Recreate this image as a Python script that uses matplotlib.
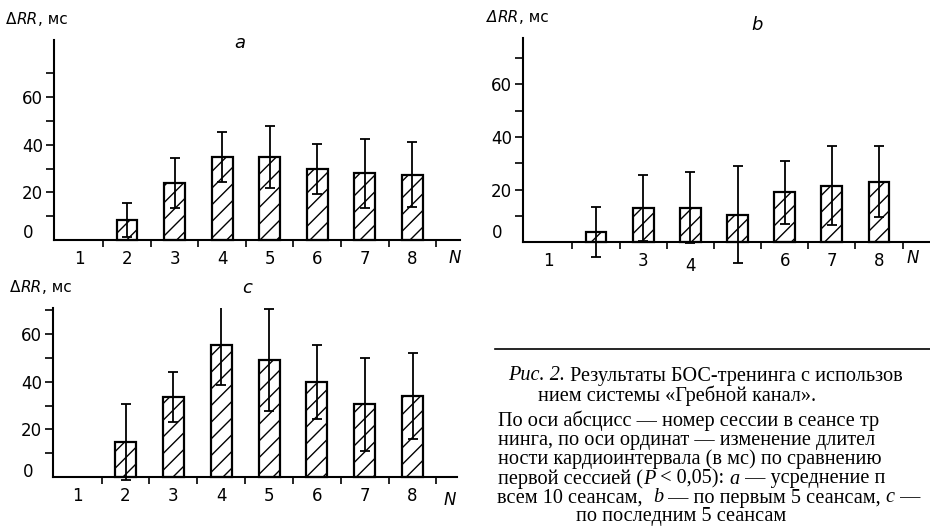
import matplotlib
matplotlib.use('Agg')
import matplotlib.pyplot as plt
from matplotlib.lines import Line2D
from matplotlib.ticker import FixedLocator
from matplotlib.transforms import ScaledTranslation

W, H = 930, 528

# session numbers that have bars (session 1 is the reference)
sessions = [2, 3, 4, 5, 6, 7, 8]
x_ticks = [1, 2, 3, 4, 5, 6, 7, 8]
x_minor = [1.5, 2.5, 3.5, 4.5, 5.5, 6.5, 7.5, 8.5]

# a - all 10 seances
a_mean = [8.5, 24, 35, 35, 30, 28, 27.5]
a_err = [7, 10.5, 10.5, 13, 10.5, 14.5, 13.5]
# b - first 5 seances
b_mean = [4, 13, 13, 10.5, 19, 21.5, 23]
b_err = [9.5, 12.5, 13.5, 18.5, 12, 15, 13.5]
# c - last 5 seances
c_mean = [14.5, 33.5, 55.5, 49, 40, 30.5, 34]
c_err = [16, 10.5, 17, 21.5, 15.5, 19.5, 18]

a_labels = ['1', '2', '3', '4', '5', '6', '7', '8']
b_labels = ['1', '', '3', '4', '', '6', '7', '8']
c_labels = ['1', '2', '3', '4', '5', '6', '7', '8']
y_major = [20, 40, 60]
y_minor = [10, 30, 50, 70]

fig = plt.figure(figsize=(W / 100, H / 100), dpi=100)
plt.rcParams['hatch.linewidth'] = 1.0
SANS = 'DejaVu Sans'
SERIF = 'Liberation Serif'


def fx(x):
    return x / W


def fy(y):
    return 1 - y / H


def runs(x, y, parts, size, family, va='center'):
    # draw a line of text made of pieces with different styles
    r = fig.canvas.get_renderer()
    for s, style in parts:
        t = fig.text(fx(x), fy(y), s, style=style, fontsize=size,
                     family=family, va=va, ha='left')
        x += t.get_window_extent(renderer=r).width


def panel(rect, xlim, ylim, mean, err, labels):
    x0, y0, x1, y1 = rect
    ax = fig.add_axes([fx(x0), fy(y1), (x1 - x0) / W, (y1 - y0) / H])
    ax.patch.set_visible(False)
    ax.bar(sessions, mean, width=0.44, color='white', edgecolor='black',
           linewidth=1.6, hatch='//', zorder=2)
    ax.errorbar(sessions, mean, yerr=err, fmt='none', ecolor='black',
                elinewidth=1.3, capsize=3.5, capthick=1.3, zorder=3)
    ax.set_xlim(xlim)
    ax.set_ylim(ylim)
    ax.spines[['top', 'right']].set_visible(False)
    ax.spines[['left', 'bottom']].set_linewidth(1.5)
    ax.spines['bottom'].set_position(('data', 0))
    ax.spines['left'].set_bounds(0, ylim[1])
    ax.set_xticks(x_ticks, labels)
    ax.xaxis.set_minor_locator(FixedLocator(x_minor))
    ax.set_yticks(y_major)
    ax.yaxis.set_minor_locator(FixedLocator(y_minor))
    ax.tick_params(axis='x', which='major', length=0, pad=7, labelsize=12)
    ax.tick_params(axis='x', which='minor', length=5, width=1.2)
    ax.tick_params(axis='y', which='both', length=6, width=1.2, pad=2,
                   labelsize=12)
    return ax


ax_a = panel((54, 40, 460, 272), (0.466, 9.0), (-13.4, 84), a_mean, a_err, a_labels)
ax_b = panel((523, 38, 930, 275), (0.453, 9.08), (-12.5, 77.6), b_mean, b_err, b_labels)
ax_c = panel((53, 308, 457, 505), (0.483, 8.93), (-11.8, 71), c_mean, c_err, c_labels)

# in b the label "4" sits a little lower
lab4 = ax_b.get_xticklabels()[3]
lab4.set_transform(lab4.get_transform() + ScaledTranslation(0, -4 / 72, fig.dpi_scale_trans))

# axis titles, panel letters, zero labels and N
for x, y, delta_style in [(6, 20, 'normal'), (487, 17, 'italic'), (10, 288, 'normal')]:
    runs(x, y, [('Δ', delta_style), ('RR', 'italic'), (', мс', 'normal')], 11, SANS)
for x, y, s in [(240, 43, 'a'), (757, 25, 'b'), (247, 288, 'c')]:
    fig.text(fx(x), fy(y), s, style='italic', fontsize=13, family=SANS,
             ha='center', va='center')
for x, y in [(28, 233), (497, 233), (28, 472)]:
    fig.text(fx(x), fy(y), '0', fontsize=12, family=SANS, ha='center', va='center')
for x, y in [(455, 258), (913, 258), (450, 500)]:
    fig.text(fx(x), fy(y), 'N', style='italic', fontsize=12, family=SANS,
             ha='center', va='center')

# caption
fig.add_artist(Line2D([fx(495), fx(930)], [fy(349), fy(349)],
                      transform=fig.transFigure, color='black', lw=1.2))
CS = 14.6
n, it = 'normal', 'italic'
runs(508, 376, [('Рис. 2.', it), (' Результаты БОС-тренинга с использов', n)], CS, SERIF)
fig.text(fx(677), fy(396), 'нием системы «Гребной канал».', fontsize=CS,
         family=SERIF, ha='center', va='center')
runs(498, 421, [('По оси абсцисс — номер сессии в сеансе тр', n)], CS, SERIF)
runs(498, 440, [('нинга, по оси ординат — изменение длител', n)], CS, SERIF)
runs(498, 459, [('ности кардиоинтервала (в мс) по сравнению', n)], CS, SERIF)
runs(498, 479, [('первой сессией (', n), ('P', it), (' < 0,05): ', n), ('a', it),
                (' — усреднение п', n)], CS, SERIF)
runs(497, 498, [('всем 10 сеансам,  ', n), ('b', it), (' — по первым 5 сеансам, ', n),
                ('c', it), (' —', n)], CS, SERIF)
fig.text(fx(681), fy(516), 'по последним 5 сеансам', fontsize=CS,
         family=SERIF, ha='center', va='center')

fig.savefig('out.png', dpi=100)
